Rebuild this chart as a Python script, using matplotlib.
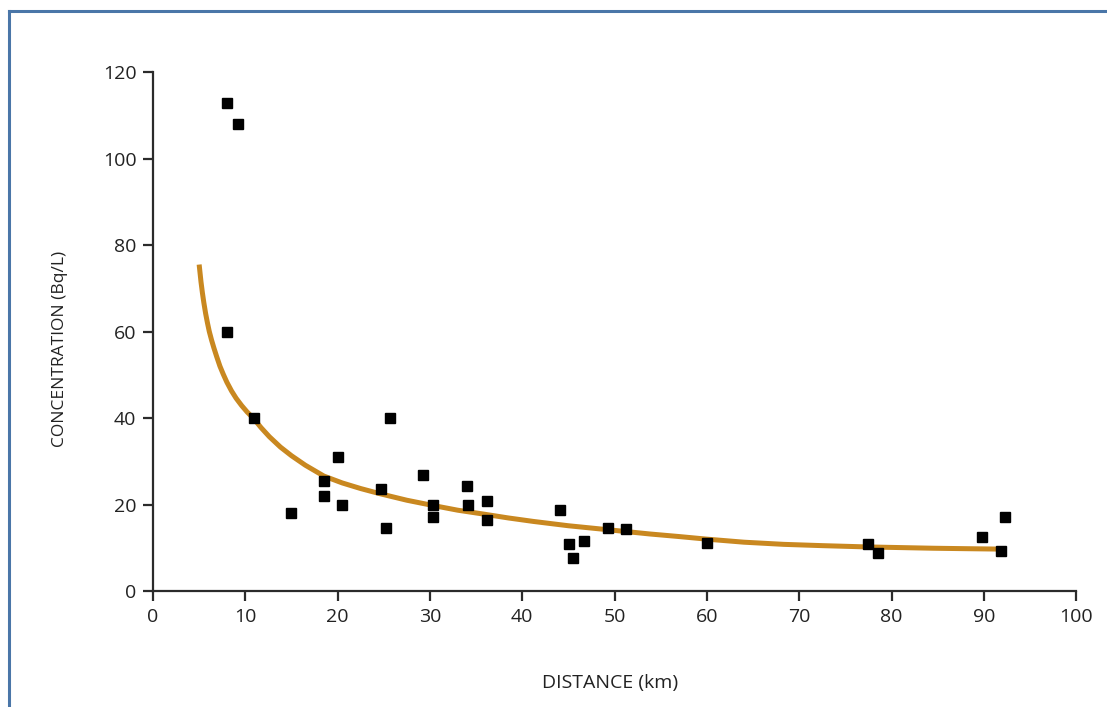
import matplotlib

matplotlib.use("Agg")
import matplotlib.pyplot as plt
from matplotlib.lines import Line2D

distance_km = [8.0, 9.2, 8.0, 10.9, 15.0, 18.5, 18.5, 20.0, 20.5, 24.7,
               25.2, 25.7, 29.3, 30.3, 30.3, 34.0, 34.1, 36.2, 36.2, 44.1,
               45.1, 45.5, 46.7, 49.3, 51.2, 60.0, 77.5, 78.5, 89.8, 91.9,
               92.3]
concentration = [112.8, 108.0, 60.0, 40.0, 18.0, 25.4, 22.0, 31.0, 20.0, 23.6,
                 14.6, 40.0, 26.8, 19.9, 17.1, 24.4, 19.8, 20.8, 16.4, 18.8,
                 10.9, 7.7, 11.6, 14.6, 14.3, 11.1, 10.9, 8.9, 12.5, 9.2,
                 17.1]

# Fitted trend curve
curve_x = [5.0, 5.1, 5.2, 5.35, 5.5, 5.7, 5.9, 6.1, 6.35, 6.6, 6.9, 7.25,
           7.6, 8.0, 8.5, 9.0, 9.6, 10.2, 10.9, 11.7, 12.6, 13.8, 15.0,
           16.5, 18.5, 20.5, 22.5, 24.6, 27.5, 30.3, 33.0, 35.8, 38.5,
           41.2, 45.0, 49.2, 53.8, 57.0, 60.0, 64.0, 68.3, 72.5, 77.4,
           81.0, 84.5, 88.0, 91.8]
curve_y = [75.5, 73.5, 71.5, 69.0, 66.8, 64.2, 62.0, 60.0, 58.0, 56.2, 54.2,
           52.0, 50.2, 48.3, 46.3, 44.6, 42.9, 41.4, 39.9, 37.8, 35.7, 33.3,
           31.3, 29.1, 26.6, 25.0, 23.7, 22.5, 21.0, 19.8, 18.7, 17.8, 16.9,
           16.1, 15.1, 14.2, 13.2, 12.6, 12.0, 11.3, 10.8, 10.5, 10.2,
           10.05, 9.9, 9.8, 9.7]

X_TICKS = list(range(0, 101, 10))
Y_TICKS = list(range(0, 121, 20))

plt.rcParams.update({
    "font.family": ["Open Sans", "DejaVu Sans"],
    "font.size": 13,
    "axes.spines.top": False,
    "axes.spines.right": False,
})

fig = plt.figure(figsize=(11.07, 7.07), dpi=100)
ax = fig.add_axes([0.1382, 0.164, 0.834, 0.734])

ax.plot(curve_x, curve_y, color="#c98820", linewidth=3.6,
        solid_capstyle="butt", solid_joinstyle="round", zorder=2)
ax.plot(distance_km, concentration, linestyle="none", marker="s",
        markersize=7, color="black", zorder=3)

ax.set_xlim(0, 100)
ax.set_ylim(0, 120)
ax.set_xticks(X_TICKS)
ax.set_yticks(Y_TICKS)

for side in ("left", "bottom"):
    ax.spines[side].set_color("#2b2b2b")
    ax.spines[side].set_linewidth(1.6)
ax.tick_params(direction="out", length=7, width=1.6, color="#2b2b2b",
               labelsize=14, labelcolor="#222222", pad=5)

ax.set_xlabel("DISTANCE (km)", fontsize=14, color="#222222")
ax.set_ylabel("CONCENTRATION (Bq/L)", fontsize=12.5, color="#222222")
ax.xaxis.set_label_coords(0.495, -0.177)
ax.xaxis.label.set_va("center")
ax.yaxis.set_label_coords(-0.101, 0.466)
ax.yaxis.label.set_va("center")

# blue frame (left and top edges visible)
frame = "#4a76a8"
fx = 9 / 1107
fy = 1 - 11 / 707
fig.add_artist(Line2D([fx, fx], [0, fy], color=frame, linewidth=2.2,
                      transform=fig.transFigure))
fig.add_artist(Line2D([fx, 1], [fy, fy], color=frame, linewidth=2.2,
                      transform=fig.transFigure))

fig.savefig("out.png", dpi=100)
